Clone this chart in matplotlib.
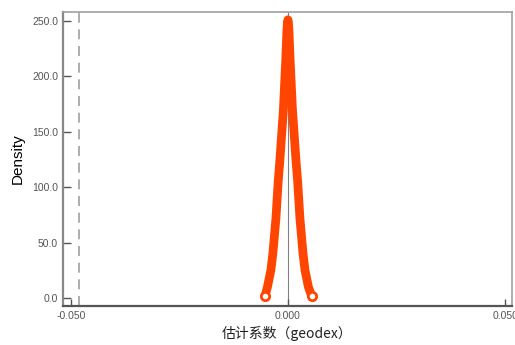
import matplotlib
matplotlib.use('Agg')
import matplotlib.pyplot as plt
from matplotlib.ticker import FormatStrFormatter

# 系数的密度曲线
coef_x = [-0.0053, -0.00472, -0.00392, -0.00346, -0.00276, -0.00226, -0.00184,
          -0.00104, -0.0005, -0.00025, -0.00012, 0.0, 0.00012, 0.00025, 0.0005,
          0.00104, 0.00184, 0.00226, 0.00276, 0.00346, 0.00392, 0.00472, 0.0055]
density = [1.5, 9.9, 25.3, 40.6, 72.0, 104.0, 125.0, 170.0, 215.0, 240.0, 248.0,
           251.0, 248.0, 240.0, 215.0, 170.0, 125.0, 104.0, 72.0, 40.6, 25.3,
           9.9, 1.5]
ref_line = -0.0482   # 虚线位置
x_ticks = [-0.05, 0.0, 0.05]
y_ticks = [0, 50, 100, 150, 200, 250]

plt.rcParams['font.family'] = ['Liberation Sans', 'DejaVu Sans']

fig = plt.figure(figsize=(5.15, 3.45), dpi=100)
ax = fig.add_axes([0.1223, 0.113, 0.8719, 0.8522])

ax.axvline(0.0, color='#808080', lw=0.8, zorder=1)
ax.axvline(ref_line, color='#a0a0a0', lw=1.2, ls=(0, (6, 4)), zorder=1)

ax.plot(coef_x, density, color='#ff4500', lw=6.3, solid_capstyle='butt',
        solid_joinstyle='round', zorder=3)
ax.plot([coef_x[0], coef_x[-1]], [density[0], density[-1]], 'o', color='#ff4500',
        mfc='white', ms=6, mew=2, zorder=4)

ax.set_xlim(-0.0518, 0.0516)
ax.set_ylim(-7.2, 258)
ax.set_xticks(x_ticks)
ax.set_yticks(y_ticks)
ax.xaxis.set_major_formatter(FormatStrFormatter('%.3f'))
ax.yaxis.set_major_formatter(FormatStrFormatter('%.1f'))
ax.tick_params(direction='in', labelsize=7.5, labelcolor='#555555', color='#555555')
ax.tick_params(axis='y', length=6, width=1)
ax.tick_params(axis='x', length=5, width=1)

for side in ['top', 'right']:
    ax.spines[side].set_color('#a0a0a0')
    ax.spines[side].set_linewidth(1.2)
ax.spines['left'].set_color('#888888')
ax.spines['left'].set_linewidth(1.6)
ax.spines['bottom'].set_color('#555555')
ax.spines['bottom'].set_linewidth(1.6)

ax.set_ylabel('Density', fontsize=11, labelpad=5)
ax.set_xlabel('估计系数（geodex）', fontsize=10, color='#222222', labelpad=4,
              family=['Noto Sans CJK SC', 'DejaVu Sans'])

fig.savefig('out.png', dpi=100)
